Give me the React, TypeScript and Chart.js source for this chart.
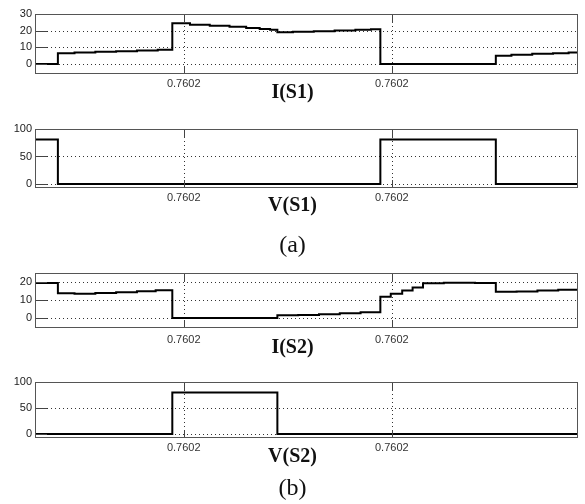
import React, { useEffect, useRef } from "react";
import { Chart, registerables } from "chart.js";

Chart.register(...registerables);

// time axis in microseconds after 0.76 s
const tMin = 185.7;
const tMax = 237.9;
const xTickTimes = [200, 220];

// I(S1)
const is1T = [185.7, 187.9, 189.5, 191.5, 193.5, 195.5, 197.5, 198.9, 200.6, 202.5, 204.4, 206.0, 207.3, 208.3, 209.0, 210.5, 212.5, 214.5, 216.5, 218.0, 218.9, 230.0, 231.5, 233.5, 235.5, 237.0, 237.9];
const is1V = [0, 6.4, 6.9, 7.3, 7.7, 8.1, 8.6, 24.5, 23.6, 23.0, 22.3, 21.6, 21.0, 20.6, 19.0, 19.3, 19.7, 20.1, 20.5, 20.8, 0, 5.0, 5.6, 6.1, 6.5, 6.9, 6.9];
const is1Ticks = [0, 10, 20, 30];

// V(S1)
const vs1T = [185.7, 187.9, 218.9, 230.0, 237.9];
const vs1V = [81, 0, 81, 0, 0];
const vs1Ticks = [0, 50, 100];

// I(S2)
const is2T = [185.7, 187.9, 189.5, 191.5, 193.5, 195.5, 197.3, 198.9, 209.0, 211.0, 213.0, 215.0, 217.0, 218.9, 219.9, 221.0, 222.0, 223.0, 225.0, 228.0, 230.0, 232.0, 234.0, 236.0, 237.9];
const is2V = [19.4, 13.7, 13.4, 13.9, 14.3, 14.8, 15.4, 0, 1.5, 1.7, 2.1, 2.6, 3.2, 11.8, 13.5, 15.3, 17.0, 19.3, 19.6, 19.4, 14.6, 14.7, 15.2, 15.7, 16.1];
const is2Ticks = [0, 10, 20];

// V(S2)
const vs2T = [185.7, 198.9, 209.0, 237.9];
const vs2V = [0, 80, 0, 0];
const vs2Ticks = [0, 50, 100];

const W = 585;

const scopePlugin = {
  id: "scopeFrame",
  beforeDatasetsDraw(chart: any) {
    const { ctx, chartArea: a, scales } = chart;
    const x = scales.x, y = scales.y;
    ctx.save();
    ctx.strokeStyle = "#333";
    ctx.lineWidth = 1;
    ctx.setLineDash([1, 3]);
    ctx.beginPath();
    y.ticks.forEach((t: any) => {
      const py = Math.round(y.getPixelForValue(t.value)) + 0.5;
      ctx.moveTo(a.left, py);
      ctx.lineTo(a.right, py);
    });
    x.ticks.forEach((t: any) => {
      const px = Math.round(x.getPixelForValue(t.value)) + 0.5;
      ctx.moveTo(px, a.top);
      ctx.lineTo(px, a.bottom);
    });
    ctx.stroke();
    ctx.restore();
  },
  afterDatasetsDraw(chart: any) {
    const { ctx, chartArea: a, scales } = chart;
    const x = scales.x, y = scales.y;
    ctx.save();
    ctx.setLineDash([]);
    ctx.lineWidth = 1;
    ctx.strokeStyle = "#444";
    ctx.beginPath();
    y.ticks.forEach((t: any) => {
      const py = Math.round(y.getPixelForValue(t.value)) + 0.5;
      ctx.moveTo(a.left, py);
      ctx.lineTo(a.left + 12, py);
    });
    x.ticks.forEach((t: any) => {
      const px = Math.round(x.getPixelForValue(t.value)) + 0.5;
      ctx.moveTo(px, a.top);
      ctx.lineTo(px, a.top + 9);
      ctx.moveTo(px, a.bottom);
      ctx.lineTo(px, a.bottom - 8);
    });
    ctx.stroke();
    ctx.strokeStyle = "#555";
    ctx.strokeRect(
      Math.round(a.left) + 0.5,
      Math.round(a.top) + 0.5,
      Math.round(a.right) - Math.round(a.left) - 1,
      Math.round(a.bottom) - Math.round(a.top) - 1
    );
    ctx.restore();
  },
};

type PanelProps = {
  top: number;
  height: number;
  chartTop: number;
  chartBottom: number;
  times: number[];
  values: number[];
  yMin: number;
  yMax: number;
  yTicks: number[];
  labelPad: number;
};

function Panel(p: PanelProps) {
  const ref = useRef<HTMLCanvasElement>(null);
  useEffect(() => {
    if (!ref.current) return;
    const pts = p.times.map((t, i) => ({ x: t, y: p.values[i] }));
    const chart = new Chart(ref.current, {
      type: "line",
      data: {
        datasets: [
          {
            data: pts,
            stepped: true,
            borderColor: "#000",
            borderWidth: 2,
            pointRadius: 0,
            fill: false,
          },
        ],
      },
      options: {
        animation: false,
        responsive: false,
        events: [],
        layout: { padding: { top: p.chartTop - p.top, right: 7, left: 0, bottom: 0 } },
        plugins: { legend: { display: false }, tooltip: { enabled: false }, title: { display: false } },
        scales: {
          x: {
            type: "linear",
            min: tMin,
            max: tMax,
            grid: { display: false, drawTicks: false },
            border: { display: false },
            afterBuildTicks: (axis: any) => {
              axis.ticks = xTickTimes.map((v) => ({ value: v }));
            },
            afterFit: (axis: any) => {
              axis.height = p.top + p.height - p.chartBottom;
            },
            ticks: {
              autoSkip: false,
              maxRotation: 0,
              padding: p.labelPad,
              color: "#333",
              font: { family: "'Liberation Sans', Arial, sans-serif", size: 11 },
              callback: (v: any) => (0.76 + Number(v) * 1e-6).toFixed(4),
            },
          },
          y: {
            type: "linear",
            min: p.yMin,
            max: p.yMax,
            grid: { display: false, drawTicks: false },
            border: { display: false },
            afterBuildTicks: (axis: any) => {
              axis.ticks = p.yTicks.map((v) => ({ value: v }));
            },
            afterFit: (axis: any) => {
              axis.width = 35;
            },
            ticks: {
              autoSkip: false,
              padding: 3,
              color: "#222",
              font: { family: "'Liberation Sans', Arial, sans-serif", size: 11 },
            },
          },
        },
      },
      plugins: [scopePlugin],
    } as any);
    return () => chart.destroy();
  }, []);
  return (
    <canvas
      ref={ref}
      width={W}
      height={p.height}
      style={{ position: "absolute", left: 0, top: p.top, width: W, height: p.height, display: "block" }}
    />
  );
}

function Label({ text, cy, size, bold }: { text: string; cy: number; size: number; bold?: boolean }) {
  return (
    <div
      style={{
        position: "absolute",
        left: 0,
        width: W,
        top: cy - size / 2 - 1,
        height: size,
        lineHeight: `${size}px`,
        textAlign: "center",
        fontFamily: "'Liberation Serif', 'Times New Roman', serif",
        fontWeight: bold ? "bold" : "normal",
        fontSize: size,
        color: "#111",
        zIndex: 2,
      }}
    >
      {text}
    </div>
  );
}

export default function App() {
  return (
    <div style={{ position: "absolute", left: 0, top: 0, width: W, height: 504, background: "#fff", overflow: "hidden" }}>
      <Panel top={0} height={92} chartTop={14} chartBottom={74} times={is1T} values={is1V} yMin={-6} yMax={30} yTicks={is1Ticks} labelPad={3} />
      <Panel top={115} height={90} chartTop={129} chartBottom={188} times={vs1T} values={vs1V} yMin={-7.3} yMax={100} yTicks={vs1Ticks} labelPad={3} />
      <Panel top={260} height={88} chartTop={273} chartBottom={328} times={is2T} values={is2V} yMin={-5.6} yMax={25} yTicks={is2Ticks} labelPad={5} />
      <Panel top={370} height={85} chartTop={382} chartBottom={438} times={vs2T} values={vs2V} yMin={-7.7} yMax={100} yTicks={vs2Ticks} labelPad={3} />
      <Label text="I(S1)" cy={92} size={20} bold />
      <Label text="V(S1)" cy={205} size={20} bold />
      <Label text="(a)" cy={245} size={24} />
      <Label text="I(S2)" cy={347} size={20} bold />
      <Label text="V(S2)" cy={456} size={20} bold />
      <Label text="(b)" cy={488} size={24} />
    </div>
  );
}
